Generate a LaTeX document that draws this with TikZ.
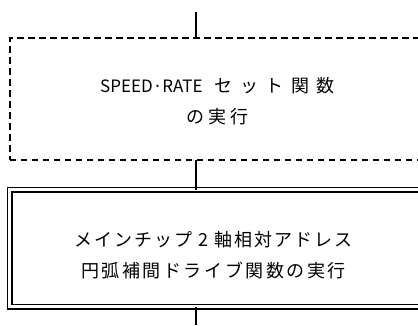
\documentclass[tikz,border=0pt]{standalone}
\usepackage{fontspec}
\newfontfamily\jp[LetterSpace=14]{Noto Sans CJK JP}
\newfontfamily\jpn[LetterSpace=11]{Noto Sans CJK JP}
\newfontfamily\jpwide[LetterSpace=42]{Noto Sans CJK JP}
\newfontfamily\jpmid[LetterSpace=22]{Noto Sans CJK JP}
\newfontfamily\jplat{Noto Sans CJK JP}
\begin{document}
\begin{tikzpicture}[x=1pt,y=-1pt,
  conn/.style={line width=1.8pt},
  dashbox/.style={draw, line width=1.8pt, dash pattern=on 6.5pt off 4.5pt, rectangle, inner sep=0pt, outer sep=0pt},
  dblbox/.style={draw, line width=1.6pt, double=white, double distance=2.8pt, rectangle, inner sep=0pt, outer sep=0pt},
  label/.style={align=center, inner sep=0pt, font=\jp\fontsize{18}{31.5}\selectfont}]
\useasboundingbox (0,0) rectangle (418,325);
\fill[white] (0,0) rectangle (418,325);
\node[dashbox, minimum width=430pt, minimum height=122pt] (box1) at (224.75,99) {};
\node[dblbox, minimum width=430pt, minimum height=116.8pt] (box2) at (224.5,248.1) {};
\node[label] (t1) at (217.5,101) {{\jplat\fontsize{17}{31.5}\selectfont SPEED·RATE}\hspace{12pt}{\jpwide セット関数}\\{\jpmid の実行}};
\node[label] (t2) at (213.5,255) {{\jpn メインチップ 2 軸相対アドレス}\\円弧補間ドライブ関数の実行};
\coordinate (c0) at (196,12);
\coordinate (c3) at (196,325);
\draw[conn] (c0) -- (c0 |- box1.north);
\draw[conn] (c0 |- box1.south) -- (c0 |- box2.north);
\draw[conn] (c0 |- box2.south) -- (c3);
\end{tikzpicture}
\end{document}
